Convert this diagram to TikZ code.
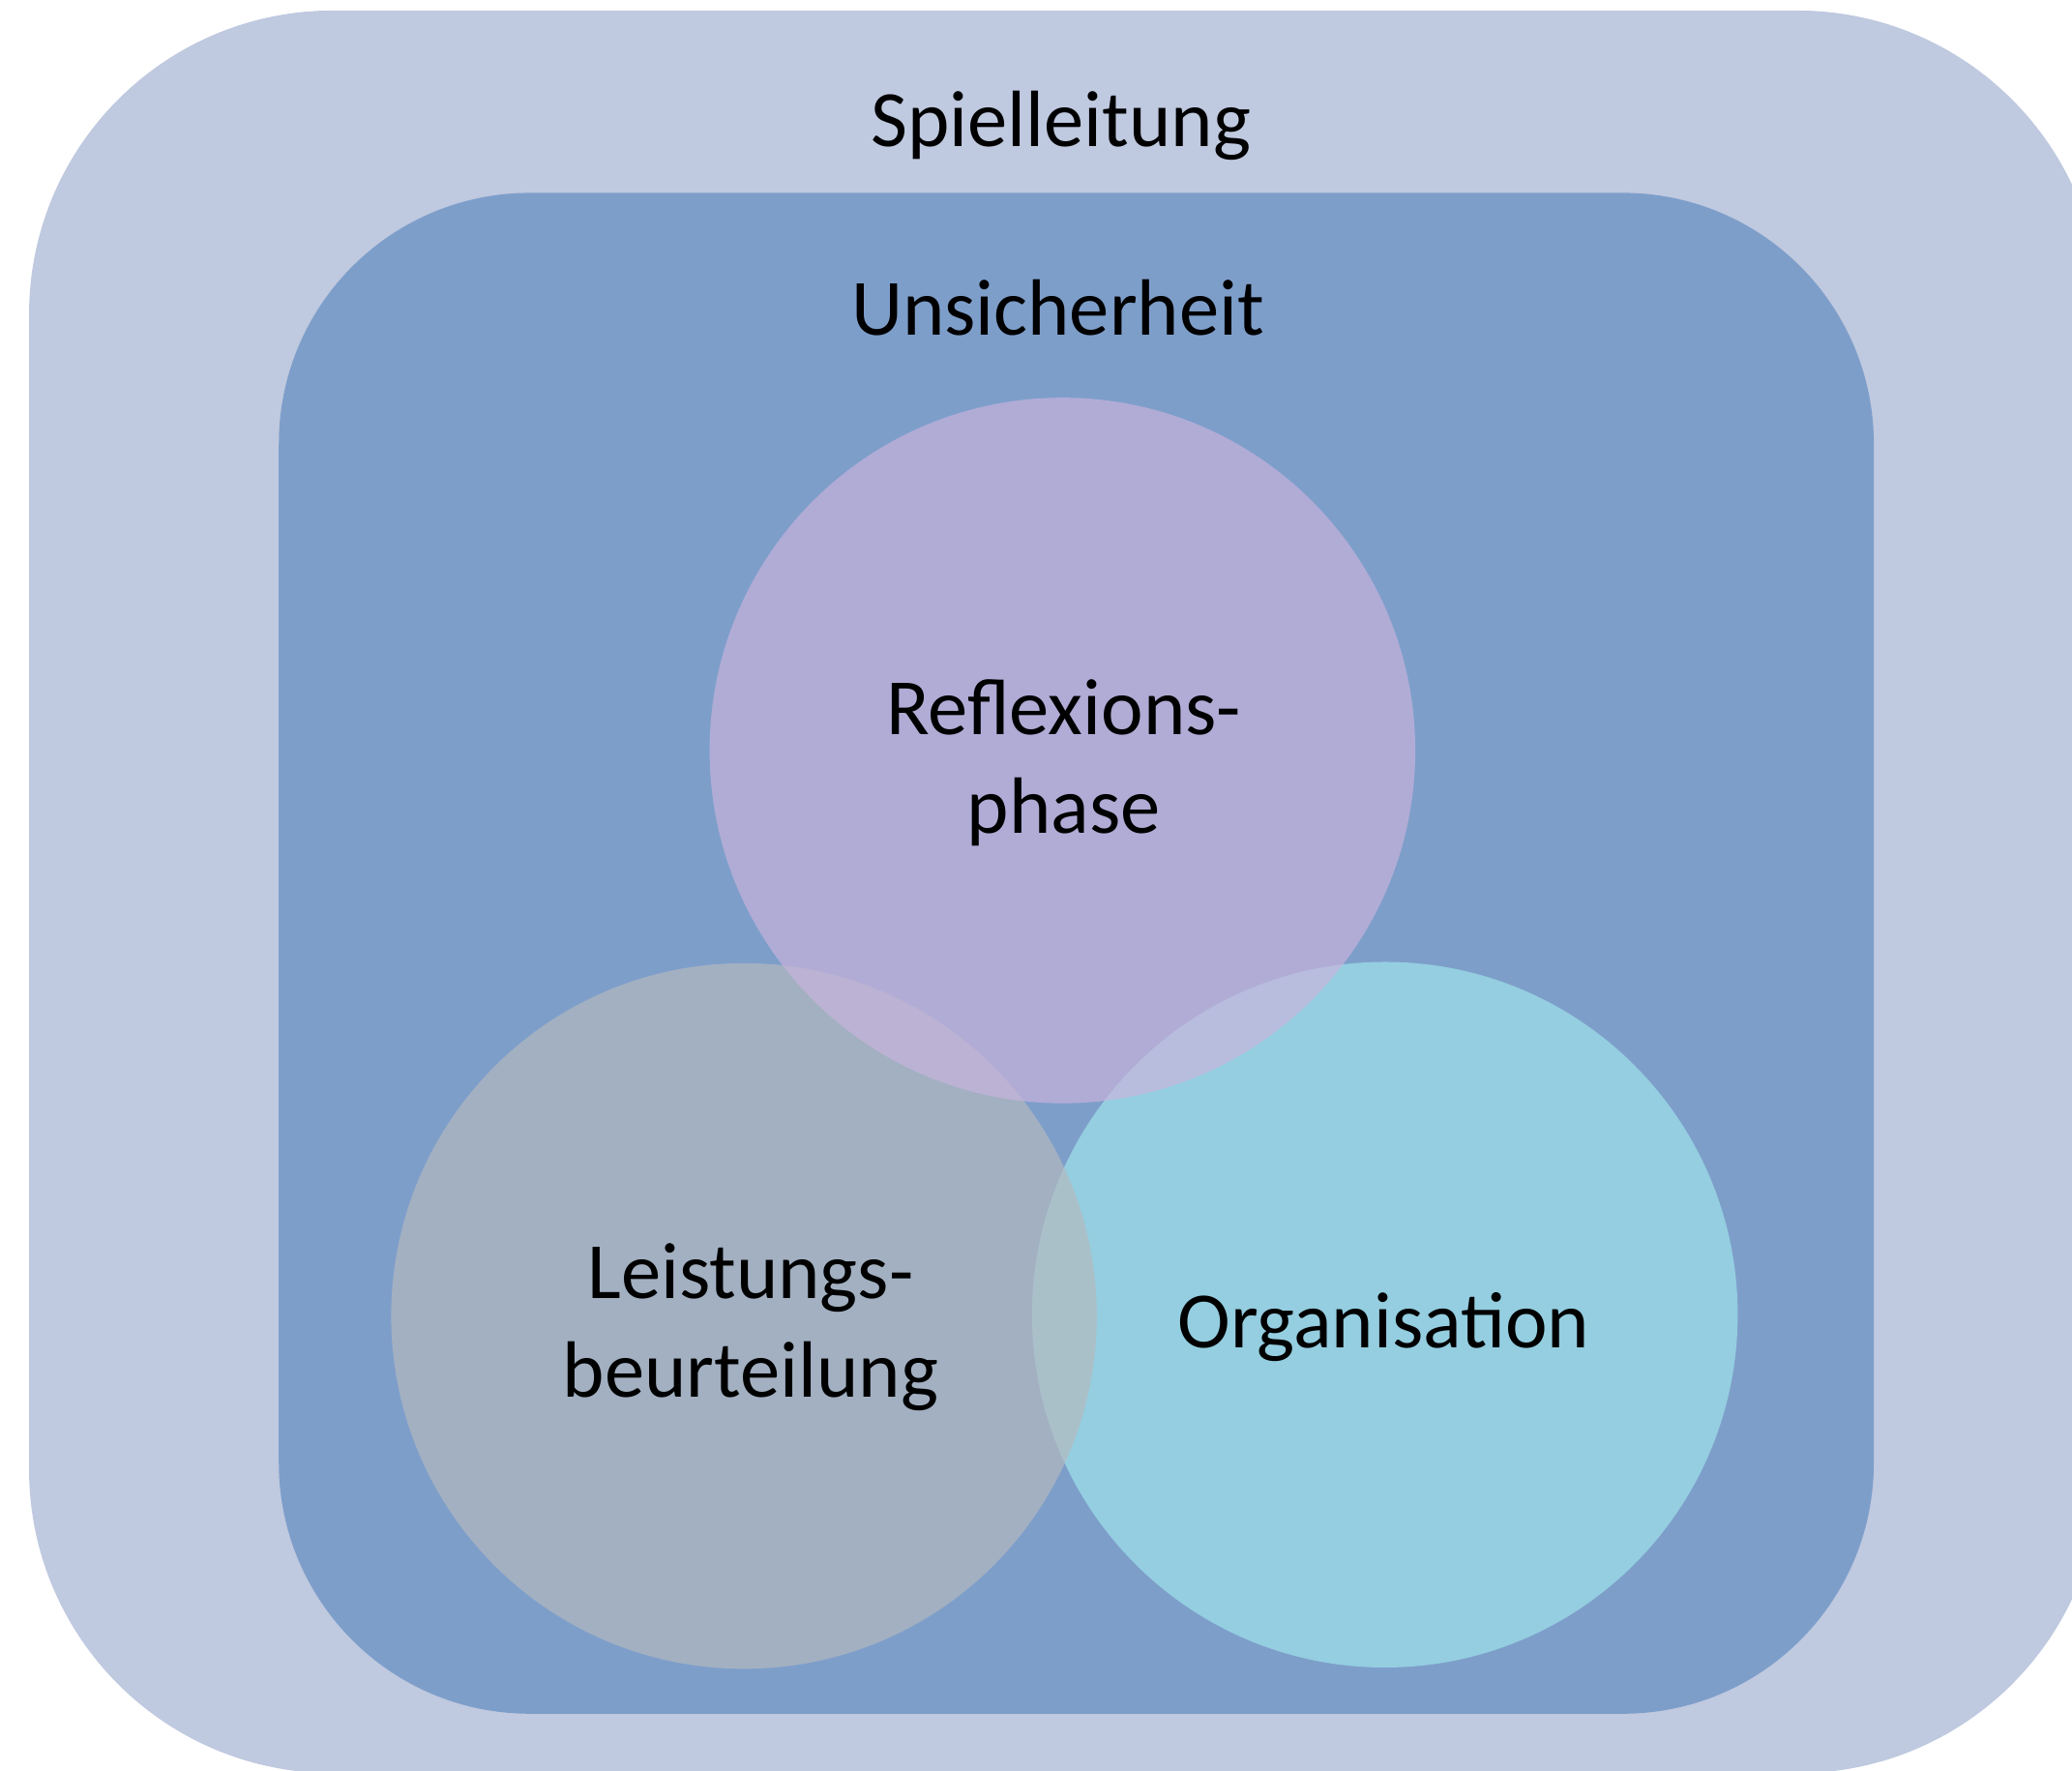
\documentclass[tikz,border=0pt]{standalone}
\usepackage{fontspec}
\setmainfont{Carlito}
\usepackage{tikz}
\usetikzlibrary{positioning}

\definecolor{outerbg}{RGB}{191,201,223}
\definecolor{innerbg}{RGB}{126,158,202}
\definecolor{reflcol}{RGB}{202,180,220}
\definecolor{leistcol}{RGB}{181,186,190}
\definecolor{orgcol}{RGB}{160,230,235}

\begin{document}
\begin{tikzpicture}[
    frame/.style={rounded corners=#1, inner sep=0pt},
    venn/.style={circle, minimum size=5.34cm, inner sep=0pt, fill=#1, fill opacity=0.67},
    lbl/.style={font=\fontsize{17.2}{21.2}\selectfont, align=center, anchor=base, inner sep=0pt}]
  \useasboundingbox (0,0) rectangle (15.68,13.40);
  \clip (0,0) rectangle (15.68,13.40);

  % outer and inner frame
  \node[frame=2.3cm, fill=outerbg, minimum width=15.68cm, minimum height=13.34cm] (spiel) at (8.06,6.65) {};
  \node[frame=1.9cm, fill=innerbg, minimum width=12.07cm, minimum height=11.51cm] (unsich) at (8.145,6.185) {};
  \node[lbl] (spieltxt) at (8.03,12.29) {Spielleitung};
  \node[lbl] (unsichtxt) at (8.005,10.86) {Unsicherheit};

  % the three circles
  \node[venn=orgcol] (org) at (10.48,3.45) {};
  \node[venn=leistcol] (leist) at (5.63,3.44) {};
  \node[venn=reflcol] (refl) at (8.04,7.72) {};

  % circle labels (base = last line)
  \node[lbl] (refltxt) at (8.05,7.095) {Reflexions-\\phase};
  \node[lbl] (leisttxt) at (5.68,2.825) {Leistungs-\\beurteilung};
  \node[lbl] (orgtxt) at (10.47,3.20) {Organisation};
\end{tikzpicture}
\end{document}
